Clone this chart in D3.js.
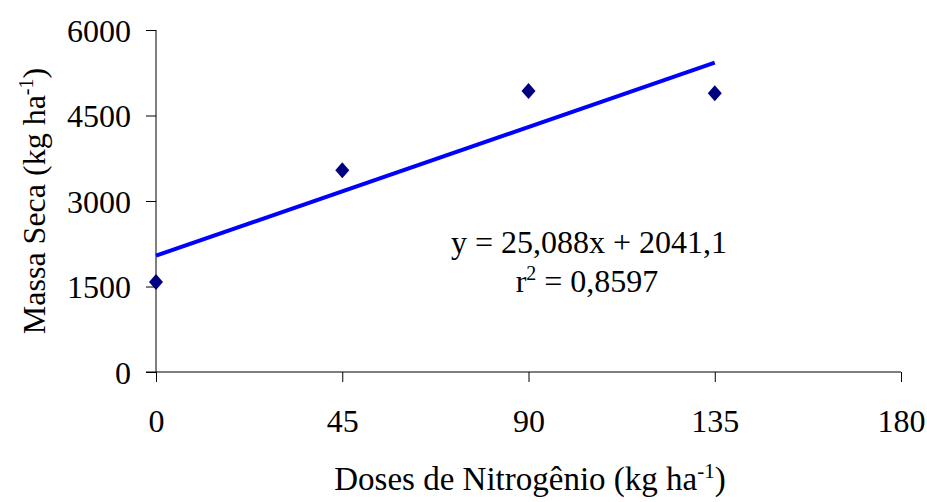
<!DOCTYPE html>
<html>
<head>
<meta charset="utf-8">
<script src="https://cdn.jsdelivr.net/npm/d3@7"></script>
<style>
  body { margin: 0; background: #fff; }
  text { font-family: "Liberation Serif", "Times New Roman", serif; fill: #000; }
</style>
</head>
<body>
<svg width="927" height="502"></svg>
<script>
'use strict';

// dados
var doses = [0, 45, 90, 135];
var massa = [1580, 3540, 4930, 4890];
var xTicks = [0, 45, 90, 135, 180];
var yTicks = [0, 1500, 3000, 4500, 6000];
var coefA = 25.088;
var coefB = 2041.1;
var eqText = 'y = 25,088x + 2041,1';
var r2Text = '0,8597';

var fs = '32px';
var fsSup = '20px';

var svg = d3.select('svg');

var x = d3.scaleLinear().domain([0, 180]).range([156, 901]);
var y = d3.scaleLinear().domain([0, 6000]).range([372, 30]);

// eixo y
var gy = svg.append('g')
    .attr('transform', 'translate(156,0)')
    .call(d3.axisLeft(y).tickValues(yTicks).tickSize(10).tickPadding(15).tickFormat(d3.format('d')));
gy.select('.domain').attr('stroke', '#000').attr('d', 'M0,30V372');
gy.selectAll('.tick line').attr('stroke', '#000');
gy.selectAll('text').style('font-size', fs).style('font-family', '"Liberation Serif", serif').attr('dy', '0.35em');

// eixo x
var gx = svg.append('g')
    .attr('transform', 'translate(0,372)')
    .call(d3.axisBottom(x).tickValues(xTicks).tickSize(10).tickPadding(27).tickFormat(d3.format('d')));
gx.select('.domain').attr('stroke', '#000').attr('d', 'M146,0H901');
gx.selectAll('.tick line').attr('stroke', '#000');
gx.selectAll('text').style('font-size', fs).style('font-family', '"Liberation Serif", serif');

// linha de tendencia
svg.append('line')
    .attr('x1', x(0))
    .attr('y1', y(coefB))
    .attr('x2', x(135))
    .attr('y2', y(coefA * 135 + coefB))
    .attr('stroke', '#0000ff')
    .attr('stroke-width', 4);

// pontos (losangos)
svg.append('g')
    .selectAll('path')
    .data(doses)
    .enter()
    .append('path')
    .attr('d', function (d, i) {
        var cx = x(d), cy = y(massa[i]);
        return 'M' + cx + ',' + (cy - 8) + ' L' + (cx + 7) + ',' + cy + ' L' + cx + ',' + (cy + 8) + ' L' + (cx - 7) + ',' + cy + 'Z';
    })
    .attr('fill', '#000080');

// equacao
svg.append('text')
    .text(eqText)
    .attr('x', 589)
    .attr('y', 253)
    .attr('text-anchor', 'middle')
    .style('font-size', fs);

var r2 = svg.append('text')
    .attr('x', 587)
    .attr('y', 292)
    .attr('text-anchor', 'middle')
    .style('font-size', fs);
r2.append('tspan').text('r');
r2.append('tspan').text('2').attr('dy', -12).style('font-size', fsSup);
r2.append('tspan').text(' = ' + r2Text).attr('dy', 12);

// titulo eixo x
var tx = svg.append('text')
    .attr('x', 530)
    .attr('y', 490)
    .attr('text-anchor', 'middle')
    .style('font-size', '33px');
tx.append('tspan').text('Doses de Nitrogênio (kg ha');
tx.append('tspan').text('-1').attr('dy', -12).style('font-size', '21px');
tx.append('tspan').text(')').attr('dy', 12);

// titulo eixo y
var ty = svg.append('text')
    .attr('transform', 'translate(45,201) rotate(-90)')
    .attr('text-anchor', 'middle')
    .style('font-size', fs);
ty.append('tspan').text('Massa Seca (kg ha');
ty.append('tspan').text('-1').attr('dy', -12).style('font-size', fsSup);
ty.append('tspan').text(')').attr('dy', 12);
</script>
</body>
</html>
